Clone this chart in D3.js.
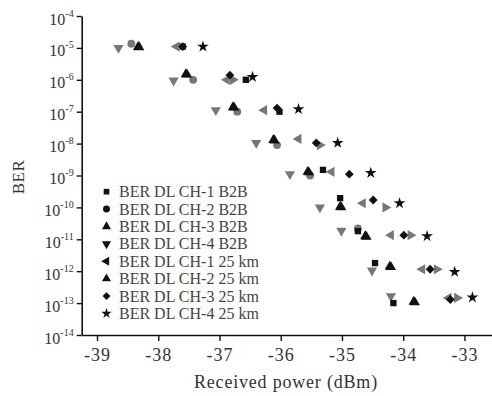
<!DOCTYPE html>
<html><head><meta charset="utf-8">
<script src="https://cdn.jsdelivr.net/npm/d3@7"></script>
<style>body{margin:0;background:#fff}svg{display:block}</style>
</head><body>
<svg id="c" width="492" height="396"></svg>
<script>
// ---- data ----
const seriesNames = ["BER DL CH-1 B2B","BER DL CH-2 B2B","BER DL CH-3 B2B","BER DL CH-4 B2B",
  "BER DL CH-1 25 km","BER DL CH-2 25 km","BER DL CH-3 25 km","BER DL CH-4 25 km"];
const xTicks = [-39,-38,-37,-36,-35,-34,-33];
const yTickExps = [-4,-5,-6,-7,-8,-9,-10,-11,-12,-13,-14];

const ch1B2B_p = [-37.60,-36.57,-36.02,-35.31,-35.03,-34.74,-34.46,-34.16];
const ch1B2B_ber = [1.1e-5,1.0e-6,1.0e-7,1.5e-9,1.95e-10,1.8e-11,1.8e-12,1.0e-13];
const ch2B2B_p = [-38.44,-37.43,-36.71,-36.06,-35.52,-34.74];
const ch2B2B_ber = [1.35e-5,1.0e-6,1.0e-7,0.9e-8,1.0e-9,2.2e-11];
const ch3B2B_p = [-38.33,-37.55,-36.78,-36.12,-35.56,-35.03,-34.62,-34.22,-33.83];
const ch3B2B_ber = [1.07e-5,1.5e-6,1.38e-7,1.3e-8,1.3e-9,1.05e-10,1.25e-11,1.4e-12,1.1e-13];
const ch4B2B_p = [-38.65,-37.75,-37.06,-36.40,-35.85,-35.36,-35.01,-34.51,-34.20];
const ch4B2B_ber = [1.0e-5,0.95e-6,1.12e-7,1.05e-8,1.1e-9,1.0e-10,1.85e-11,1.05e-12,1.65e-13];
const ch1Km_p = [-37.70,-36.88,-36.27,-35.71,-35.17,-34.66,-34.20,-33.69,-33.26];
const ch1Km_ber = [1.1e-5,1.0e-6,1.12e-7,1.4e-8,1.3e-9,1.35e-10,1.35e-11,1.15e-12,1.45e-13];
const ch2Km_p = [-38.31,-37.53,-36.76,-36.10,-35.54,-35.01,-34.60,-34.20,-33.81];
const ch2Km_ber = [1.05e-5,1.45e-6,1.35e-7,1.25e-8,1.25e-9,1.0e-10,1.2e-11,1.35e-12,1.05e-13];
const ch3Km_p = [-37.60,-36.83,-36.06,-35.42,-34.88,-34.49,-33.99,-33.56,-33.23];
const ch3Km_ber = [1.1e-5,1.4e-6,1.3e-7,1.05e-8,1.1e-9,1.7e-10,1.35e-11,1.15e-12,1.3e-13];
const ch4Km_p = [-37.27,-36.46,-35.71,-35.07,-34.53,-34.06,-33.61,-33.16,-32.87];
const ch4Km_ber = [1.1e-5,1.23e-6,1.2e-7,1.05e-8,1.2e-9,1.35e-10,1.25e-11,0.95e-12,1.5e-13];
// unlabeled extra markers (grey right-pointing triangles)
const extra_p = [-36.78,-35.36,-34.29,-33.88,-33.45,-33.12];
const extra_ber = [1.0e-6,0.9e-8,1.0e-10,1.35e-11,1.15e-12,1.45e-13];

const grey = "#777", black = "#111";
const tri = d3.symbolTriangle;
const series = [
  {name:seriesNames[0], p:ch1B2B_p, b:ch1B2B_ber, type:d3.symbolSquare, rot:0, size:40, color:black},
  {name:seriesNames[1], p:ch2B2B_p, b:ch2B2B_ber, type:d3.symbolCircle, rot:0, size:48, color:grey},
  {name:seriesNames[2], p:ch3B2B_p, b:ch3B2B_ber, type:tri, rot:0, size:45, color:black},
  {name:seriesNames[3], p:ch4B2B_p, b:ch4B2B_ber, type:tri, rot:180, size:45, color:grey},
  {name:seriesNames[4], p:ch1Km_p, b:ch1Km_ber, type:tri, rot:-90, size:45, color:grey},
  {name:seriesNames[5], p:ch2Km_p, b:ch2Km_ber, type:tri, rot:0, size:45, color:black},
  {name:seriesNames[6], p:ch3Km_p, b:ch3Km_ber, type:d3.symbolDiamond2, rot:0, size:50, color:black},
  {name:seriesNames[7], p:ch4Km_p, b:ch4Km_ber, type:d3.symbolStar, rot:0, size:42, color:black}
];
const extra = {p:extra_p, b:extra_ber, type:tri, rot:90, size:45, color:grey};

const svg = d3.select("#c");
const x = d3.scaleLinear().domain([-39.25,-32.55]).range([81.7,492]);
const y = d3.scaleLog().domain([1e-14,1e-4]).range([335,16]);
const serif = "'Liberation Serif','DejaVu Serif',serif";

// axes
const xa = svg.append("g").attr("transform","translate(0,335)")
  .call(d3.axisBottom(x).tickValues(xTicks).tickSize(6).tickSizeOuter(0).tickFormat(d=>String(d)));
xa.select(".domain").attr("stroke","#111").attr("stroke-width",1.6);
xa.selectAll(".tick line").attr("stroke","#111").attr("stroke-width",1.4);
xa.selectAll(".tick text").attr("font-family",serif).attr("font-size",18).attr("fill","#333")
  .attr("letter-spacing","1px").attr("dy","0.95em");

const ya = svg.append("g").attr("transform","translate(81.7,0)")
  .call(d3.axisLeft(y).tickValues(yTickExps.map(e=>Math.pow(10,e))).tickSize(5).tickSizeOuter(0).tickFormat(""));
ya.select(".domain").attr("stroke","#111").attr("stroke-width",1.6);
ya.selectAll(".tick line").attr("stroke","#111").attr("stroke-width",1.4);
ya.selectAll(".tick").each(function(d){
  const e = Math.round(Math.log10(d));
  const t = d3.select(this).append("text").attr("x",-8).attr("y",8)
    .attr("text-anchor","end").attr("font-family",serif).attr("fill","#333");
  t.append("tspan").attr("font-size",16).text("10");
  t.append("tspan").attr("font-size",10).attr("dy",-8).text(String(e));
});

// axis titles
svg.append("text").attr("x",286).attr("y",388).attr("text-anchor","middle")
  .attr("font-family",serif).attr("font-size",18).attr("letter-spacing","0.8px").attr("fill","#333")
  .text("Received power (dBm)");
svg.append("text").attr("transform","translate(24,177) rotate(-90)").attr("text-anchor","middle")
  .attr("font-family",serif).attr("font-size",17).attr("letter-spacing","0.5px").attr("fill","#333").text("BER");

// points
function draw(s){
  const pts = s.p.map((v,i)=>({p:v,b:s.b[i]}));
  svg.append("g").selectAll("path").data(pts).join("path")
    .attr("d", d3.symbol().type(s.type).size(s.size))
    .attr("transform", d=>`translate(${x(d.p)},${y(d.b)}) rotate(${s.rot})`)
    .attr("fill", s.color);
}
series.filter(s=>s.color===grey).forEach(draw);
draw(extra);
series.filter(s=>s.color===black).forEach(draw);

// legend
const lg = svg.append("g");
series.forEach((s,i)=>{
  const yy = 191.7 + i*17.4;
  lg.append("path").attr("d", d3.symbol().type(s.type).size(s.size*0.8))
    .attr("transform",`translate(106.5,${yy}) rotate(${s.rot})`).attr("fill",black);
  lg.append("text").attr("x",119).attr("y",yy+5.5).attr("font-family",serif).attr("font-size",16)
    .attr("fill","#444").text(s.name);
});
</script>
</body></html>
